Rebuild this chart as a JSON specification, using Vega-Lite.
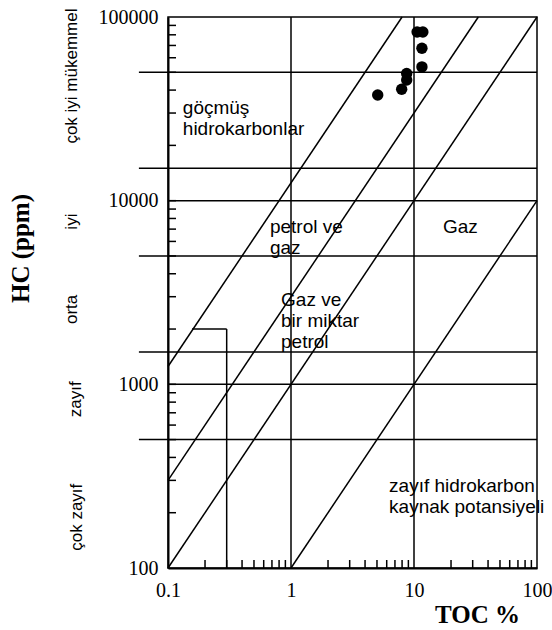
{
  "$schema": "https://vega.github.io/schema/vega-lite/v6.json",
  "width": 369,
  "height": 551,
  "autosize": "none",
  "padding": {"left": 168, "top": 17, "right": 15, "bottom": 62},
  "background": "white",
  "config": {
    "view": {"stroke": "black", "strokeWidth": 1.5},
    "axis": {"grid": false, "domainColor": "black", "domainWidth": 2, "labelColor": "black", "titleColor": "black", "labelFont": "Liberation Serif", "labelFontSize": 20, "titleFont": "Liberation Serif", "titleFontSize": 25, "titleFontWeight": "bold", "labelOverlap": false, "labelFlush": false}
  },
  "datasets": {
    "segments": [
      {"x": 0.058, "y": 50000, "x2": 100, "y2": 50000},
      {"x": 0.058, "y": 15000, "x2": 100, "y2": 15000},
      {"x": 0.1, "y": 10000, "x2": 100, "y2": 10000},
      {"x": 0.058, "y": 5000, "x2": 100, "y2": 5000},
      {"x": 0.058, "y": 1500, "x2": 100, "y2": 1500},
      {"x": 0.1, "y": 1000, "x2": 100, "y2": 1000},
      {"x": 0.058, "y": 500, "x2": 100, "y2": 500},
      {"x": 0.157, "y": 2000, "x2": 0.3, "y2": 2000},
      {"x": 0.3, "y": 100, "x2": 0.3, "y2": 2000},
      {"x": 1, "y": 100, "x2": 1, "y2": 100000},
      {"x": 10, "y": 100, "x2": 10, "y2": 100000},
      {"x": 1, "y": 100, "x2": 100, "y2": 10000},
      {"x": 0.1, "y": 100, "x2": 100, "y2": 100000},
      {"x": 0.1, "y": 300, "x2": 33.33, "y2": 100000},
      {"x": 0.1, "y": 1250, "x2": 8, "y2": 100000}
    ],
    "xticks": [
      {"x": 0.2}, {"x": 0.3}, {"x": 0.4}, {"x": 0.5}, {"x": 0.6}, {"x": 0.7}, {"x": 0.8}, {"x": 0.9},
      {"x": 2}, {"x": 3}, {"x": 4}, {"x": 5}, {"x": 6}, {"x": 7}, {"x": 8}, {"x": 9},
      {"x": 20}, {"x": 30}, {"x": 40}, {"x": 50}, {"x": 60}, {"x": 70}, {"x": 80}, {"x": 90}
    ],
    "yticks": [
      {"y": 200}, {"y": 300}, {"y": 400}, {"y": 500}, {"y": 600}, {"y": 700}, {"y": 800}, {"y": 900},
      {"y": 1000}, {"y": 2000}, {"y": 3000}, {"y": 4000}, {"y": 5000}, {"y": 6000}, {"y": 7000}, {"y": 8000}, {"y": 9000},
      {"y": 10000}, {"y": 20000}, {"y": 30000}, {"y": 40000}, {"y": 50000}, {"y": 60000}, {"y": 70000}, {"y": 80000}, {"y": 90000}
    ],
    "samples": [
      {"x": 10.6, "y": 82800},
      {"x": 11.8, "y": 82800},
      {"x": 11.6, "y": 67600},
      {"x": 11.6, "y": 53500},
      {"x": 8.72, "y": 49300},
      {"x": 8.72, "y": 45400},
      {"x": 7.94, "y": 40400},
      {"x": 5.07, "y": 37600}
    ],
    "regions": [
      {"x": 0.132, "y": 29700, "label": "göçmüş\nhidrokarbonlar"},
      {"x": 0.674, "y": 6700, "label": "petrol ve\ngaz"},
      {"x": 17.2, "y": 6700, "label": "Gaz"},
      {"x": 0.83, "y": 2660, "label": "Gaz ve\nbir miktar\npetrol"},
      {"x": 6.27, "y": 258, "label": "zayıf hidrokarbon\nkaynak potansiyeli"}
    ],
    "classes": [
      {"x": 0.0182, "y": 47700, "label": "çok iyi  mükemmel"},
      {"x": 0.0182, "y": 7690, "label": "iyi"},
      {"x": 0.0182, "y": 2560, "label": "orta"},
      {"x": 0.0195, "y": 829, "label": "zayıf"},
      {"x": 0.0200, "y": 189, "label": "çok zayıf"}
    ]
  },
  "layer": [
    {
      "data": {"name": "segments"},
      "mark": {"type": "rule", "color": "black", "strokeWidth": 1.5},
      "encoding": {
        "x": {"field": "x", "type": "quantitative",
          "scale": {"type": "log", "domain": [0.1, 100], "nice": false},
          "axis": {"title": "TOC %", "titleX": 309, "titleY": 54, "titleBaseline": "alphabetic", "titleAnchor": "middle",
            "values": [0.1, 1, 10, 100],
            "labelExpr": "datum.value == 0.1 ? '0.1' : ('' + datum.value)",
            "ticks": false, "labelPadding": 12}},
        "y": {"field": "y", "type": "quantitative",
          "scale": {"type": "log", "domain": [100, 100000], "nice": false},
          "axis": {"title": "HC (ppm)", "titleX": -140, "titleY": 231, "titleAngle": 270, "titleBaseline": "alphabetic", "titleAnchor": "middle",
            "values": [100, 1000, 10000, 100000],
            "labelExpr": "'' + datum.value",
            "ticks": false, "labelPadding": 10}},
        "x2": {"field": "x2"},
        "y2": {"field": "y2"}
      }
    },
    {
      "data": {"name": "xticks"},
      "mark": {"type": "tick", "orient": "vertical", "color": "black", "opacity": 1, "size": 8, "thickness": 1.5, "yOffset": -4},
      "encoding": {
        "x": {"field": "x", "type": "quantitative"},
        "y": {"datum": 100, "type": "quantitative"}
      }
    },
    {
      "data": {"name": "yticks"},
      "mark": {"type": "tick", "orient": "horizontal", "color": "black", "opacity": 1, "size": 8, "thickness": 1.5, "xOffset": 4},
      "encoding": {
        "x": {"datum": 0.1, "type": "quantitative"},
        "y": {"field": "y", "type": "quantitative"}
      }
    },
    {
      "data": {"name": "samples"},
      "mark": {"type": "circle", "color": "black", "opacity": 1, "size": 130},
      "encoding": {
        "x": {"field": "x", "type": "quantitative"},
        "y": {"field": "y", "type": "quantitative"}
      }
    },
    {
      "data": {"name": "regions"},
      "mark": {"type": "text", "align": "left", "baseline": "alphabetic", "font": "Liberation Sans", "fontSize": 19, "lineBreak": "\n", "lineHeight": 21, "color": "black"},
      "encoding": {
        "x": {"field": "x", "type": "quantitative"},
        "y": {"field": "y", "type": "quantitative"},
        "text": {"field": "label"}
      }
    },
    {
      "data": {"name": "classes"},
      "mark": {"type": "text", "align": "center", "baseline": "alphabetic", "angle": 270, "font": "Liberation Sans", "fontSize": 17, "color": "black"},
      "encoding": {
        "x": {"field": "x", "type": "quantitative"},
        "y": {"field": "y", "type": "quantitative"},
        "text": {"field": "label"}
      }
    }
  ]
}
